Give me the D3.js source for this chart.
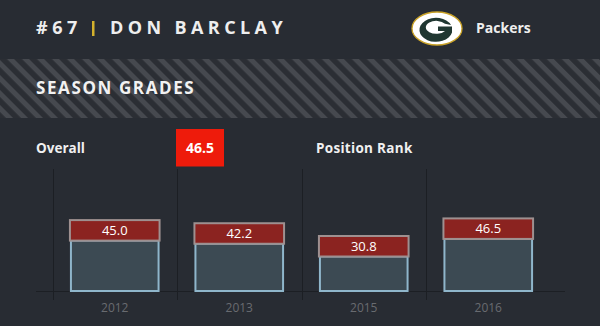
<!DOCTYPE html>
<html><head><meta charset="utf-8">
<script src="https://cdn.jsdelivr.net/npm/d3@7"></script>
<style>
html,body{margin:0;padding:0;background:#282c33;}
svg{display:block;}
text{font-family:"Open Sans",sans-serif;}
</style></head>
<body><svg id="c" width="600" height="326"></svg>
<script>
const years = ["2012","2013","2015","2016"];
const grades = [45.0, 42.2, 30.8, 46.5];
const overallGrade = 46.5;
const playerNumber = "#67";
const playerName = "DON BARCLAY";
const teamName = "Packers";

const svg = d3.select("#c");
const W = 600, H = 326;
svg.append("rect").attr("width",W).attr("height",H).attr("fill","#282c33");

// stripe pattern
const defs = svg.append("defs");
const pat = defs.append("pattern").attr("id","stripes").attr("patternUnits","userSpaceOnUse")
  .attr("width",10.6).attr("height",10.6).attr("patternTransform","rotate(45)");
pat.append("rect").attr("width",10.6).attr("height",10.6).attr("fill","#2b2e34");
pat.append("rect").attr("width",10.6).attr("height",5).attr("fill","#46494f");
svg.append("rect").attr("x",0).attr("y",59).attr("width",W).attr("height",59).attr("fill","url(#stripes)");

// header
svg.append("text").attr("x",36).attr("y",34).attr("fill","#eeeeee")
  .attr("font-size",18).attr("font-weight",700).attr("letter-spacing",4.6).text(playerNumber);
svg.append("rect").attr("x",92).attr("y",21).attr("width",2.5).attr("height",15).attr("fill","#d4b12c");
svg.append("text").attr("x",110).attr("y",34).attr("fill","#eeeeee")
  .attr("font-size",18).attr("font-weight",700).attr("letter-spacing",4.4).text(playerName);

// logo
const logo = svg.append("g").attr("transform","translate(437,28.5)");
logo.append("ellipse").attr("rx",25).attr("ry",16.5).attr("fill","#ffffff").attr("stroke","#c9a227").attr("stroke-width",1.3);
logo.append("path").attr("d","M14,-3.5 A16.5,12 0 1 0 15,4 L15,-2 L1,-2 L1,2.5 L8,2.5 A10.5,6.5 0 1 1 8,-4.8 Z")
  .attr("fill","#203731");
svg.append("text").attr("x",476).attr("y",33).attr("fill","#eeeeee")
  .attr("font-size",14).attr("font-weight",700).text(teamName);

svg.append("text").attr("x",36).attr("y",94).attr("fill","#f2f2f2")
  .attr("font-size",17).attr("font-weight",700).attr("letter-spacing",1.6).text("SEASON GRADES");

svg.append("text").attr("x",36).attr("y",153).attr("fill","#f0f0f0")
  .attr("font-size",13.5).attr("font-weight",700).text("Overall");
svg.append("text").attr("x",316).attr("y",153).attr("fill","#f0f0f0")
  .attr("font-size",13.5).attr("font-weight",700).attr("letter-spacing",0.3).text("Position Rank");

svg.append("rect").attr("x",176).attr("y",129).attr("width",48).attr("height",37.5).attr("fill","#ee1b0b");
svg.append("text").attr("x",200).attr("y",153).attr("text-anchor","middle").attr("fill","#ffffff")
  .attr("font-size",14).attr("font-weight",700).text(overallGrade.toFixed(1));

// chart
const x = d3.scaleBand().domain(years).range([52.5, 550.5]).paddingInner(0.28).paddingOuter(0.14);
const y = d3.scaleLinear().domain([0,100]).range([291, 179]);

const g = svg.append("g");
const gridX = d => Math.round(x(d) - x.step()*x.paddingOuter()) + 0.5;
g.selectAll("line.grid").data(years).join("line").attr("class","grid")
  .attr("x1",gridX).attr("x2",gridX)
  .attr("y1",169).attr("y2",300).attr("stroke","#1c1f24").attr("stroke-width",1);

const xAxis = d3.axisBottom(x).tickSize(0).tickPadding(12);
const ax = g.append("g").attr("transform","translate(0,291)").call(xAxis);
ax.select(".domain").remove();
ax.selectAll("text").attr("fill","#686b70").attr("font-size",12)
  .attr("font-family","'Liberation Sans',Arial,sans-serif");
g.append("line").attr("x1",36).attr("x2",565).attr("y1",291.5).attr("y2",291.5).attr("stroke","#1c1f24");

const bars = g.selectAll("g.bar").data(years.map((yr,i)=>({yr,v:grades[i]}))).join("g").attr("class","bar");
bars.append("rect")
  .attr("x",d=>x(d.yr)+1).attr("width",x.bandwidth()-2)
  .attr("y",d=>y(d.v)).attr("height",d=>291-y(d.v))
  .attr("fill","#3c4a53").attr("stroke","#8fb6cb").attr("stroke-width",2);
bars.append("rect")
  .attr("x",d=>x(d.yr)).attr("width",x.bandwidth())
  .attr("y",d=>y(d.v)-20.5).attr("height",20.5)
  .attr("fill","#8b2320").attr("stroke","#9e9090").attr("stroke-width",2);
bars.append("text")
  .attr("x",d=>x(d.yr)+x.bandwidth()/2).attr("y",d=>y(d.v)-5.5)
  .attr("text-anchor","middle").attr("fill","#ffffff").attr("font-size",13)
  .attr("font-family","'Liberation Sans',Arial,sans-serif")
  .text(d=>d.v.toFixed(1));
</script></body></html>
